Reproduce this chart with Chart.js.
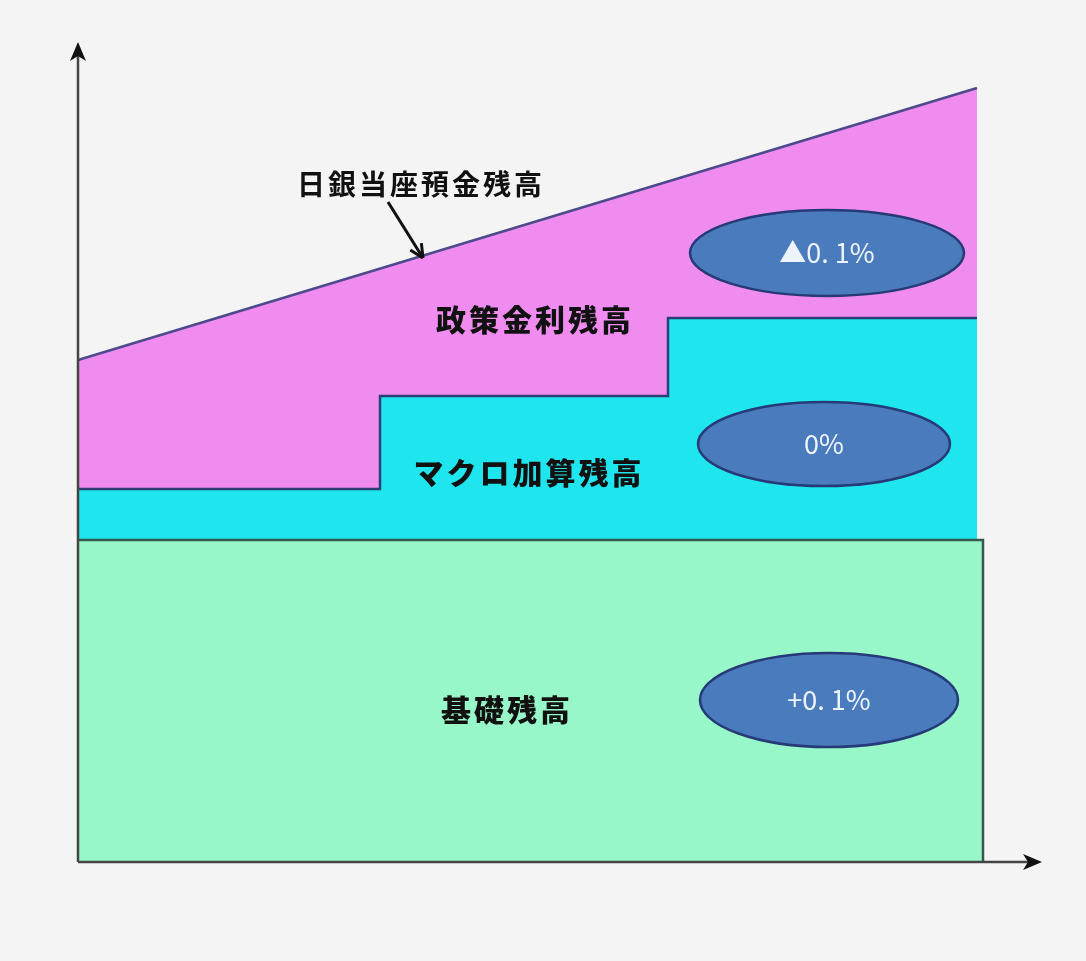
<!DOCTYPE html>
<html>
<head>
<meta charset="utf-8">
<script src="https://cdn.jsdelivr.net/npm/chart.js@4"></script>
<style>
  body { margin: 0; background: #f4f4f4; }
  #wrap { width: 1086px; height: 961px; }
</style>
</head>
<body>
<div id="wrap"><canvas id="myChart" width="1086" height="961"></canvas></div>
<script>
const ctx = document.getElementById('myChart');

// outline of each band (x, y in chart units)
const policyX = [0, 899];
const policyY = [502, 774];
const macroX = [0, 302, 302, 590, 590, 899];
const macroY = [373, 373, 466, 466, 544, 544];
const baseX = [0, 905, 905];
const baseY = [322, 322, 0];

const bandNames = ['日銀当座預金残高', '政策金利残高', 'マクロ加算残高', '基礎残高'];
const rateLabels = ['▲0. 1%', '0%', '+0. 1%'];

function toPoints(xs, ys){
  return xs.map((x, i) => ({x: x, y: ys[i]}));
}

// where the notes sit (chart units) - layout only
const namePos = [[343, 678, false], [457, 542, true], [451, 389, true], [429, 152, true]];
const ellipsePos = [[749, 609, 137, 43], [746, 418, 126, 42], [751, 162, 129, 47]];

const notes = {
  id: 'notes',
  afterDatasetsDraw(chart){
    const c = chart.ctx;
    const xs = chart.scales.x, ys = chart.scales.y;
    const area = chart.chartArea;

    // axes with arrows
    c.save();
    c.strokeStyle = '#444';
    c.lineWidth = 2.5;
    c.beginPath();
    c.moveTo(area.left, area.bottom);
    c.lineTo(area.left, area.top + 2);
    c.moveTo(area.left, area.bottom);
    c.lineTo(area.right - 4, area.bottom);
    c.stroke();
    c.fillStyle = '#111';
    c.beginPath();
    c.moveTo(area.left, area.top - 3);
    c.lineTo(area.left - 8, area.top + 16);
    c.lineTo(area.left, area.top + 11);
    c.lineTo(area.left + 8, area.top + 16);
    c.closePath();
    c.fill();
    c.beginPath();
    c.moveTo(area.right + 2, area.bottom);
    c.lineTo(area.right - 17, area.bottom - 8);
    c.lineTo(area.right - 12, area.bottom);
    c.lineTo(area.right - 17, area.bottom + 8);
    c.closePath();
    c.fill();

    // ellipses with rates
    ellipsePos.forEach((e, i) => {
      const cx = xs.getPixelForValue(e[0]);
      const cy = ys.getPixelForValue(e[1]);
      c.beginPath();
      c.ellipse(cx, cy, e[2], e[3], 0, 0, Math.PI * 2);
      c.fillStyle = '#4a7bbd';
      c.fill();
      c.lineWidth = 2.5;
      c.strokeStyle = '#263a78';
      c.stroke();
      c.fillStyle = '#eef4ff';
      c.font = '27px "Noto Sans CJK JP", sans-serif';
      c.textAlign = 'center';
      c.textBaseline = 'middle';
      c.fillText(rateLabels[i], cx, cy);
    });

    // band names
    namePos.forEach((p, i) => {
      c.fillStyle = '#111';
      c.font = (p[2] ? '900 30px' : 'bold 28px') + ' "Noto Sans CJK JP", sans-serif';
      c.letterSpacing = '3px';
      c.textAlign = 'center';
      c.textBaseline = 'middle';
      c.fillText(bandNames[i], xs.getPixelForValue(p[0]), ys.getPixelForValue(p[1]));
    });
    c.letterSpacing = '0px';

    // pointer to the top line
    const x1 = xs.getPixelForValue(310), y1 = ys.getPixelForValue(660);
    const x2 = xs.getPixelForValue(345), y2 = ys.getPixelForValue(604);
    c.strokeStyle = '#111';
    c.lineWidth = 3;
    c.beginPath();
    c.moveTo(x1, y1);
    c.lineTo(x2, y2);
    c.stroke();
    const ang = Math.atan2(y2 - y1, x2 - x1);
    c.beginPath();
    c.moveTo(x2, y2);
    c.lineTo(x2 - 15 * Math.cos(ang - 0.45), y2 - 15 * Math.sin(ang - 0.45));
    c.moveTo(x2, y2);
    c.lineTo(x2 - 15 * Math.cos(ang + 0.45), y2 - 15 * Math.sin(ang + 0.45));
    c.stroke();
    c.restore();
  }
};

new Chart(ctx, {
  type: 'line',
  data: {
    datasets: [
      {
        label: bandNames[3],
        data: toPoints(baseX, baseY),
        backgroundColor: '#98f7c8',
        borderColor: '#35594c',
        borderWidth: 2.5,
        fill: 'origin',
        pointRadius: 0,
        tension: 0,
        clip: false
      },
      {
        label: bandNames[2],
        data: toPoints(macroX, macroY),
        backgroundColor: '#1fe6ee',
        borderColor: '#2b3f75',
        borderWidth: 2.5,
        fill: 'origin',
        pointRadius: 0,
        tension: 0,
        clip: false
      },
      {
        label: bandNames[1],
        data: toPoints(policyX, policyY),
        backgroundColor: '#f08cf0',
        borderColor: '#4c4a8c',
        borderWidth: 2.5,
        fill: 'origin',
        pointRadius: 0,
        tension: 0,
        clip: false
      }
    ]
  },
  options: {
    responsive: false,
    animation: false,
    layout: { padding: { left: 78, top: 45, right: 46, bottom: 99 } },
    scales: {
      x: { type: 'linear', min: 0, max: 962, display: false },
      y: { type: 'linear', min: 0, max: 817, display: false }
    },
    plugins: {
      legend: { display: false },
      tooltip: { enabled: false }
    }
  },
  plugins: [notes]
});
</script>
</body>
</html>
